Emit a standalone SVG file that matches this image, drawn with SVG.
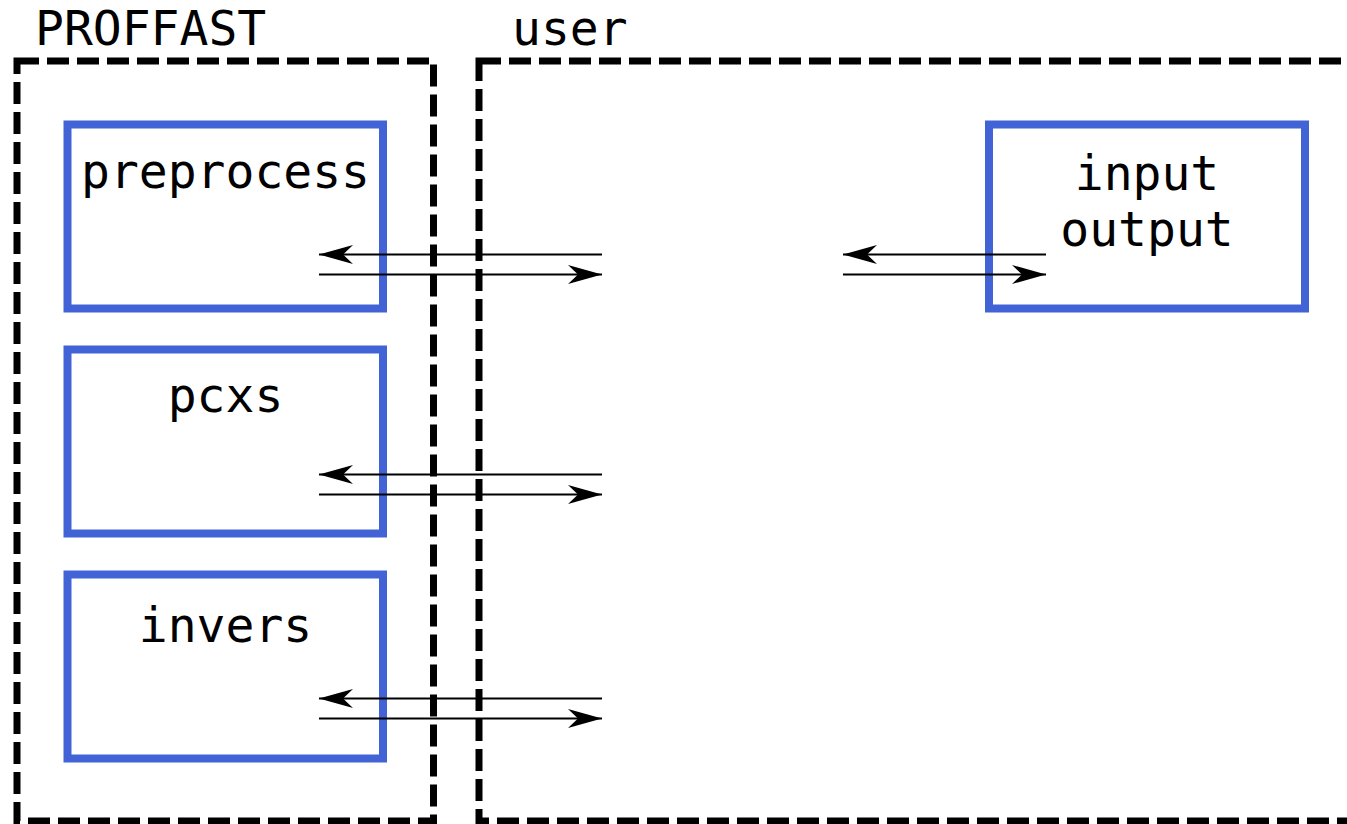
<svg xmlns="http://www.w3.org/2000/svg" width="1347" height="824" viewBox="0 0 1347 824">
<style>
.grp{fill:none;stroke:#000;stroke-width:7;stroke-dasharray:22 8}
.box{fill:none;stroke:#4263d6;stroke-width:8}
.lbl{font-family:"DejaVu Sans Mono","Liberation Mono",monospace;font-size:48px;fill:#000}
.mid{text-anchor:middle}
.arr{stroke:#000;stroke-width:2;fill:none;marker-end:url(#ah)}
</style>
<defs>
<marker id="ah" markerUnits="userSpaceOnUse" viewBox="-36 -11 38 22" refX="0" refY="0" markerWidth="38" markerHeight="22" orient="auto">
<path d="M0,0 L-34,-9.5 L-24,0 L-34,9.5 Z" fill="#000"/>
</marker>
</defs>
<rect width="1347" height="824" fill="#fff"/>
<g id="proffast">
<rect class="grp" x="17" y="61" width="416.5" height="760"/>
<text class="lbl" x="35" y="45">PROFFAST</text>
</g>
<g id="user">
<rect class="grp" x="479" y="61" width="900" height="760"/>
<text class="lbl" x="512" y="45">user</text>
</g>
<g id="preprocess">
<rect class="box" x="67.5" y="124.5" width="315.5" height="184"/>
<text class="lbl mid" x="225.5" y="188">preprocess</text>
</g>
<g id="pcxs">
<rect class="box" x="67.5" y="349.5" width="315.5" height="184"/>
<text class="lbl mid" x="225.5" y="412">pcxs</text>
</g>
<g id="invers">
<rect class="box" x="67.5" y="574.5" width="315.5" height="184"/>
<text class="lbl mid" x="225.5" y="642">invers</text>
</g>
<g id="io">
<rect class="box" x="989" y="124.5" width="316" height="184"/>
<text class="lbl mid" x="1147" y="190">input</text>
<text class="lbl mid" x="1147" y="246">output</text>
</g>
<g id="connectors">
<line class="arr" x1="602" y1="254.5" x2="319" y2="254.5"/>
<line class="arr" x1="319" y1="274.5" x2="602" y2="274.5"/>
<line class="arr" x1="602" y1="474.5" x2="319" y2="474.5"/>
<line class="arr" x1="319" y1="494.5" x2="602" y2="494.5"/>
<line class="arr" x1="602" y1="698.5" x2="319" y2="698.5"/>
<line class="arr" x1="319" y1="718.5" x2="602" y2="718.5"/>
<line class="arr" x1="1046" y1="254.5" x2="843" y2="254.5"/>
<line class="arr" x1="843" y1="274.5" x2="1046" y2="274.5"/>
</g>
</svg>
